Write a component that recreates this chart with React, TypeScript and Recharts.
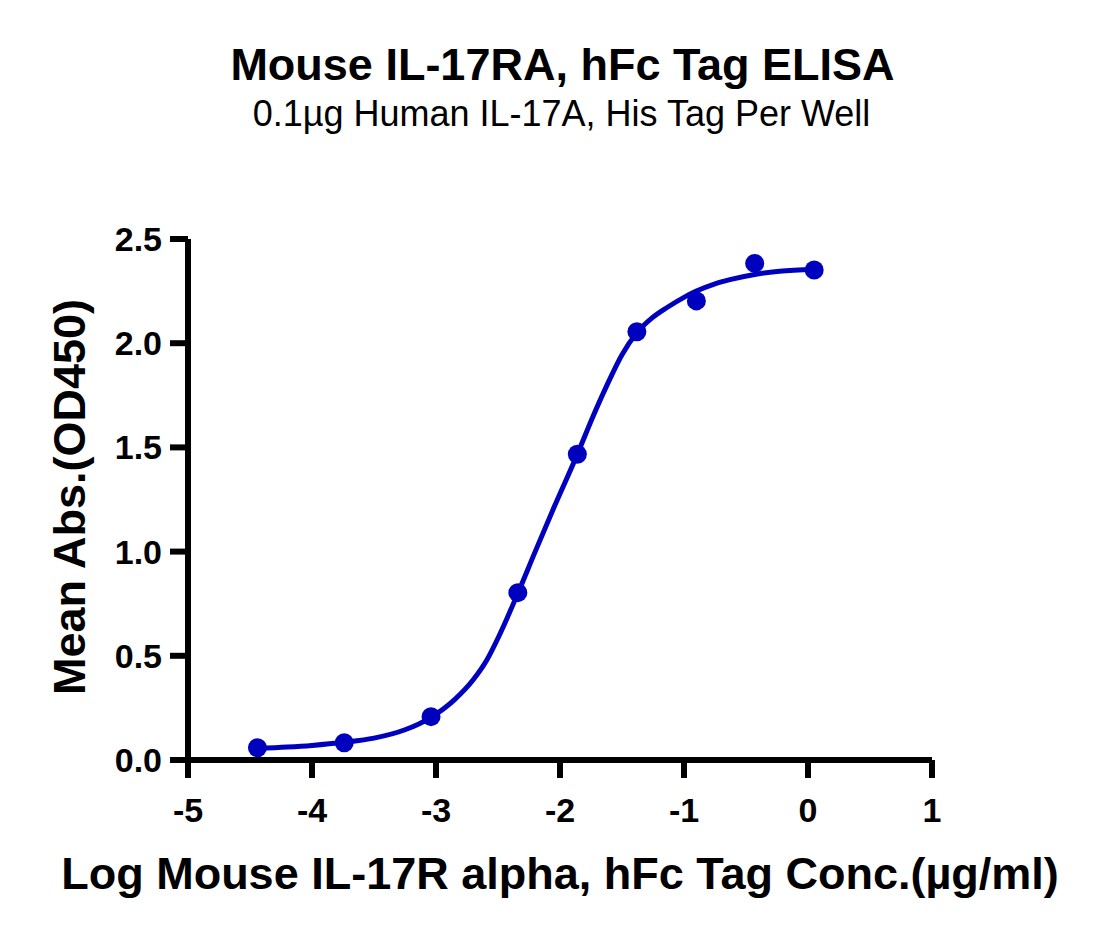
import { ComposedChart, Line, Scatter, XAxis, YAxis } from 'recharts';

const pointX = [-4.44, -3.74, -3.04, -2.34, -1.86, -1.38, -0.9, -0.43, 0.05];
const pointY = [0.059, 0.083, 0.208, 0.803, 1.467, 2.055, 2.203, 2.383, 2.351];

// fitted curve
const curveX = [
  -4.44, -4.2, -4.0, -3.74, -3.5, -3.25, -3.04, -2.85, -2.7, -2.59, -2.48, -2.34, -2.2, -2.05,
  -1.86, -1.74, -1.62, -1.5, -1.38, -1.26, -1.14, -1.0, -0.9, -0.75, -0.63, -0.43, -0.23, 0.05,
];
const curveY = [
  0.055, 0.062, 0.07, 0.085, 0.105, 0.145, 0.205, 0.29, 0.385, 0.48, 0.61, 0.8, 1.0, 1.21,
  1.467, 1.64, 1.8, 1.945, 2.05, 2.12, 2.17, 2.22, 2.25, 2.285, 2.305, 2.33, 2.345, 2.355,
];

const xTicks = [-5, -4, -3, -2, -1, 0, 1];
const yTicks = [0, 0.5, 1, 1.5, 2, 2.5];

const BLUE = '#0000BF';
const FONT = '"Liberation Sans", Arial, sans-serif';

const points = pointX.map((x, i) => ({ x, y: pointY[i] }));
const curve = curveX.map((x, i) => ({ x, y: curveY[i] }));

const tickStyle = { fill: '#000', fontSize: 34, fontWeight: 700, fontFamily: FONT };

function YLabel() {
  return (
    <text
      transform="translate(85,497) rotate(-90)"
      textAnchor="middle"
      fontSize={45}
      fontWeight={700}
      fontFamily={FONT}
      fill="#000"
    >
      Mean Abs.(OD450)
    </text>
  );
}

function Dot(props: any) {
  return <circle cx={props.cx} cy={props.cy} r={9.5} fill={BLUE} />;
}

export default function App() {
  return (
    <div style={{ position: 'absolute', left: 0, top: 0, width: 1107, height: 943, background: '#fff', fontFamily: FONT }}>
      <div style={{ position: 'absolute', left: 0, top: 42, width: 1125, textAlign: 'center', fontSize: 45, lineHeight: '45px', fontWeight: 700 }}>
        Mouse IL-17RA, hFc Tag ELISA
      </div>
      <div style={{ position: 'absolute', left: 0, top: 96, width: 1123, textAlign: 'center', fontSize: 36, lineHeight: '36px' }}>
        0.1µg Human IL-17A, His Tag Per Well
      </div>
      <ComposedChart width={1107} height={943} margin={{ top: 239, right: 175, bottom: 0, left: 0 }}>
        <XAxis
          type="number"
          dataKey="x"
          domain={[-5, 1]}
          ticks={xTicks}
          allowDataOverflow
          height={183}
          tickSize={18}
          tickMargin={20}
          axisLine={{ stroke: '#000', strokeWidth: 6 }}
          tickLine={{ stroke: '#000', strokeWidth: 6 }}
          tick={tickStyle}
          label={{
            value: 'Log Mouse IL-17R alpha, hFc Tag Conc.(µg/ml)',
            position: 'insideBottom',
            offset: 54,
            style: { fill: '#000', fontSize: 45, fontWeight: 700, fontFamily: FONT },
          }}
        />
        <YAxis
          type="number"
          dataKey="y"
          domain={[0, 2.5]}
          ticks={yTicks}
          allowDataOverflow
          width={188}
          tickSize={18}
          tickMargin={8}
          axisLine={{ stroke: '#000', strokeWidth: 6 }}
          tickLine={{ stroke: '#000', strokeWidth: 6 }}
          tick={tickStyle}
          tickFormatter={(v: number) => v.toFixed(1)}
          label={<YLabel />}
        />
        <Line
          data={curve}
          dataKey="y"
          type="monotone"
          stroke={BLUE}
          strokeWidth={5}
          dot={false}
          activeDot={false}
          isAnimationActive={false}
        />
        <Scatter data={points} dataKey="y" fill={BLUE} shape={<Dot />} isAnimationActive={false} />
      </ComposedChart>
    </div>
  );
}
